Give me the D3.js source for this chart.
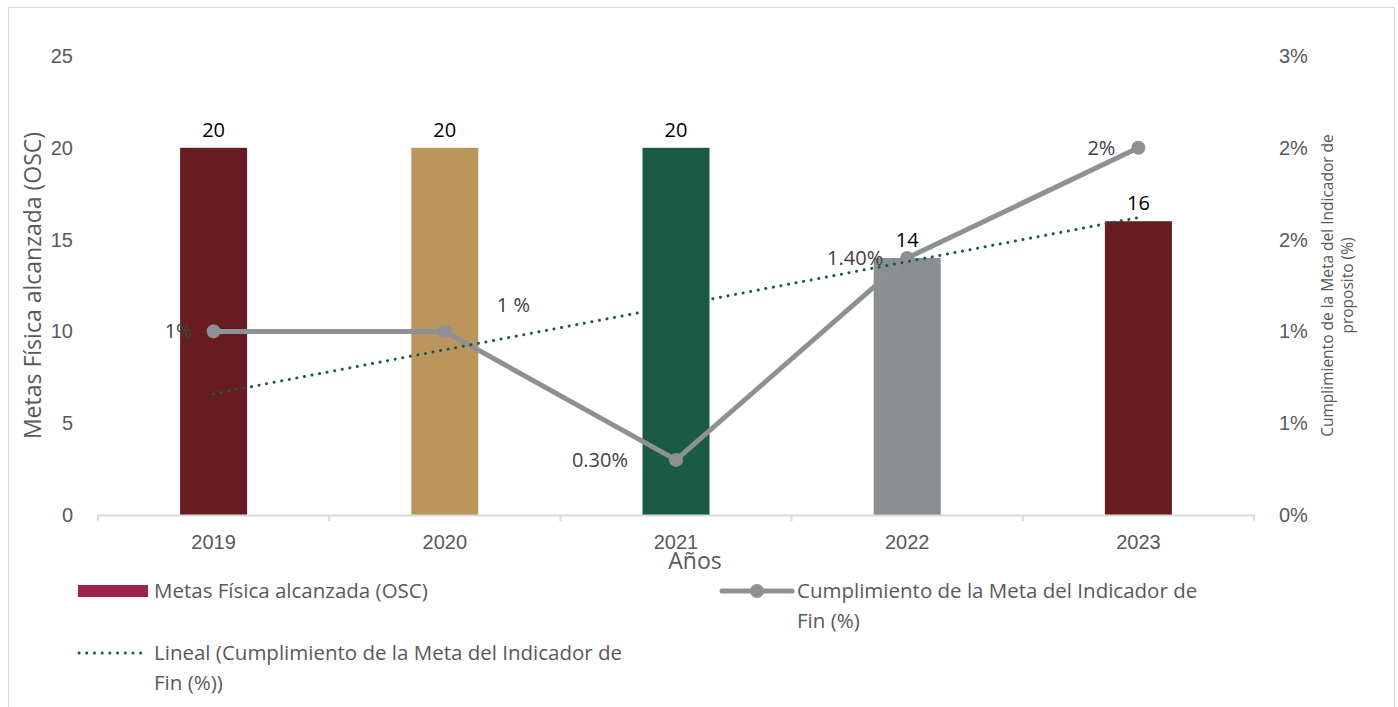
<!DOCTYPE html>
<html>
<head>
<meta charset="utf-8" />
<style>
  body { margin: 0; background: #fff; }
  svg { font-family: "Open Sans", sans-serif; }
  .tick text { fill: #595959; font-size: 20px; }
</style>
</head>
<body>
<div id="chart"></div>
<script src="https://cdn.jsdelivr.net/npm/d3@7"></script>
<script>
var years = ["2019", "2020", "2021", "2022", "2023"];
var metas = [20, 20, 20, 14, 16];
var cumplimiento = [1, 1, 0.3, 1.4, 2];
var pctLabels = ["1%", "1 %", "0.30%", "1.40%", "2%"];
var barColors = ["#661c20", "#bc955c", "#1b5a45", "#8c8f91", "#661c20"];
var leftTicks = [0, 5, 10, 15, 20, 25];
var rightTicks = [0, 0.5, 1, 1.5, 2, 2.5];
var rightTickLabels = ["0%", "1%", "1%", "2%", "2%", "3%"];

var width = 1398, height = 707;
var margin = {left: 98, right: 144, top: 56, bottom: 192};

var svg = d3.select('#chart').append('svg')
  .attr('width', width).attr('height', height);

// chart frame
svg.append('rect')
  .attr('x', 8.5).attr('y', 7.5)
  .attr('width', 1386).attr('height', 720)
  .attr('fill', 'none').attr('stroke', '#d9d9d9');

var x = d3.scaleBand().domain(years)
  .range([margin.left, width - margin.right]);
var y = d3.scaleLinear().domain([0, 25])
  .range([height - margin.bottom, margin.top]);
var y2 = d3.scaleLinear().domain([0, 2.5])
  .range([height - margin.bottom, margin.top]);

// left axis (labels only)
var yAxis = svg.append('g')
  .attr('transform', 'translate(' + (margin.left - 22) + ',0)')
  .call(d3.axisLeft(y).tickValues(leftTicks).tickSize(0));
yAxis.select('.domain').remove();

var y2Axis = svg.append('g')
  .attr('transform', 'translate(' + (width - margin.right + 22) + ',0)')
  .call(d3.axisRight(y2).tickValues(rightTicks).tickSize(0)
    .tickFormat(function(d, i) { return rightTickLabels[i]; }));
y2Axis.select('.domain').remove();

// bars
svg.selectAll('rect.bar')
  .data(metas)
  .enter().append('rect')
  .attr('class', 'bar')
  .attr('x', function(d, i) { return x(years[i]) + x.bandwidth() / 2 - 33.5; })
  .attr('width', 67)
  .attr('y', function(d) { return y(d); })
  .attr('height', function(d) { return y(0) - y(d); })
  .attr('fill', function(d, i) { return barColors[i]; });

// x axis
var xAxis = svg.append('g')
  .attr('transform', 'translate(0,' + y(0) + ')')
  .call(d3.axisBottom(x).tickSize(0).tickPadding(20));
xAxis.select('.domain').attr('stroke', '#d9d9d9').attr('stroke-width', 2);
var edges = years.map(function(d) { return x(d); }).concat([x.range()[1]]);
xAxis.selectAll('line.edge')
  .data(edges).enter().append('line')
  .attr('x1', function(d) { return d; }).attr('x2', function(d) { return d; })
  .attr('y1', 0).attr('y2', 6)
  .attr('stroke', '#d9d9d9').attr('stroke-width', 2);

// bar value labels
svg.selectAll('text.barlabel')
  .data(metas).enter().append('text')
  .attr('x', function(d, i) { return x(years[i]) + x.bandwidth() / 2; })
  .attr('y', function(d) { return y(d) - 11; })
  .attr('text-anchor', 'middle')
  .attr('font-size', 20)
  .attr('fill', '#000')
  .text(function(d) { return d; });

var cx = function(i) { return x(years[i]) + x.bandwidth() / 2; };

// trend line (least squares on cumplimiento)
var n = cumplimiento.length;
var mx = d3.mean(cumplimiento, function(d, i) { return i; });
var my = d3.mean(cumplimiento);
var slope = d3.sum(cumplimiento, function(d, i) { return (i - mx) * (d - my); }) /
  d3.sum(cumplimiento, function(d, i) { return (i - mx) * (i - mx); });
var trend = [0, n - 1].map(function(i) { return {i: i, v: my + slope * (i - mx)}; });

var lineGen = d3.line()
  .x(function(d) { return cx(d.i); })
  .y(function(d) { return y2(d.v); });

var pts = cumplimiento.map(function(v, i) { return {i: i, v: v}; });
svg.append('path')
  .datum(pts)
  .attr('d', lineGen)
  .attr('fill', 'none')
  .attr('stroke', '#8e9193')
  .attr('stroke-width', 5)
  .attr('stroke-linejoin', 'round');

svg.selectAll('circle.pt')
  .data(pts).enter().append('circle')
  .attr('cx', function(d) { return cx(d.i); })
  .attr('cy', function(d) { return y2(d.v); })
  .attr('r', 7)
  .attr('fill', '#8e9193');

svg.append('path')
  .datum(trend)
  .attr('d', lineGen)
  .attr('fill', 'none')
  .attr('stroke', '#1b5a45')
  .attr('stroke-width', 3)
  .attr('stroke-linecap', 'round')
  .attr('stroke-dasharray', '0.1 7.6');

// line labels
var labelOffsets = [[-21, 7, 'end'], [52, -19, 'start'], [-48, 7, 'end'], [-24, 7, 'end'], [-23, 7, 'end']];
svg.selectAll('text.pctlabel')
  .data(pts).enter().append('text')
  .attr('x', function(d) { return cx(d.i) + labelOffsets[d.i][0]; })
  .attr('y', function(d) { return y2(d.v) + labelOffsets[d.i][1]; })
  .attr('text-anchor', function(d) { return labelOffsets[d.i][2]; })
  .attr('font-size', 20)
  .attr('fill', '#404040')
  .text(function(d, i) { return pctLabels[i]; });

// axis titles
svg.append('text')
  .attr('transform', 'translate(41,' + y(12.5) + ') rotate(-90)')
  .attr('text-anchor', 'middle')
  .attr('font-size', 23)
  .attr('fill', '#595959')
  .text('Metas Física alcanzada (OSC)');

var rt = svg.append('text')
  .attr('transform', 'translate(1333,' + y(12.5) + ') rotate(-90)')
  .attr('text-anchor', 'middle')
  .attr('font-size', 15.5)
  .attr('fill', '#595959');
rt.append('tspan').attr('x', 0).attr('dy', 0).text('Cumplimiento de la Meta del Indicador de');
rt.append('tspan').attr('x', 0).attr('dy', 20).text('proposito (%)');

svg.append('text')
  .attr('x', 695).attr('y', 569)
  .attr('text-anchor', 'middle')
  .attr('font-size', 23)
  .attr('fill', '#595959')
  .text('Años');

// legend
var lg = svg.append('g').attr('font-size', 20.5).attr('fill', '#595959');
lg.append('rect').attr('x', 78).attr('y', 585).attr('width', 70).attr('height', 12).attr('fill', '#9e2349');
lg.append('text').attr('x', 154).attr('y', 598).text('Metas Física alcanzada (OSC)');

lg.append('line').attr('x1', 722).attr('x2', 792).attr('y1', 591).attr('y2', 591)
  .attr('stroke', '#8e9193').attr('stroke-width', 5).attr('stroke-linecap', 'round');
lg.append('circle').attr('cx', 757).attr('cy', 591).attr('r', 7).attr('fill', '#8e9193');
lg.append('text').attr('x', 797).attr('y', 598).text('Cumplimiento de la Meta del Indicador de');
lg.append('text').attr('x', 797).attr('y', 628).text('Fin (%)');

lg.append('line').attr('x1', 79).attr('x2', 148).attr('y1', 653).attr('y2', 653)
  .attr('stroke', '#1b5a45').attr('stroke-width', 3).attr('stroke-linecap', 'round')
  .attr('stroke-dasharray', '0.1 7.6');
lg.append('text').attr('x', 154).attr('y', 660).text('Lineal (Cumplimiento de la Meta del Indicador de');
lg.append('text').attr('x', 154).attr('y', 690).text('Fin (%))');
</script>
</body>
</html>
